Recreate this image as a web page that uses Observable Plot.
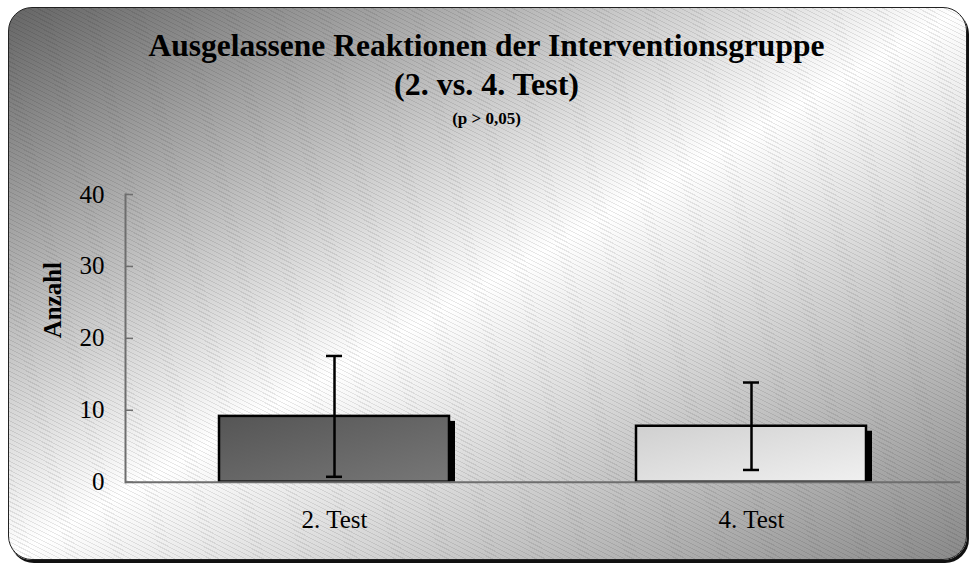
<!DOCTYPE html>
<html>
<head>
<meta charset="utf-8">
<script src="https://cdn.jsdelivr.net/npm/d3@7"></script>
<script src="https://cdn.jsdelivr.net/npm/@observablehq/plot@0.6"></script>
<style>
  html, body { margin: 0; padding: 0; background: #ffffff; }
  #wrap { position: relative; width: 973px; height: 567px; overflow: hidden; font-family: "Liberation Serif", "Times New Roman", serif; }
  #frame {
    position: absolute; left: 8px; top: 7px; width: 957px; height: 551px;
    border: 1.5px solid #222; border-radius: 24px;
    box-shadow: 2px 3px 0 #111;
    background-image:
      repeating-linear-gradient(27deg, rgba(0,0,0,0) 0px, rgba(0,0,0,0) 3px, rgba(0,0,0,0.09) 3px, rgba(0,0,0,0.09) 4px),
      linear-gradient(to bottom right, #666666 0%, #ffffff 50%, #8a8a8a 100%);
  }
  .t { position: absolute; left: 0; width: 973px; text-align: center; font-weight: bold; line-height: 1; color: #000; white-space: nowrap; }
  #t1 { top: 30px; font-size: 31.5px; }
  #t2 { top: 68px; font-size: 32px; }
  #t3 { top: 110px; font-size: 17px; }
  #chart { position: absolute; left: 0; top: 0; }
</style>
</head>
<body>
<div id="wrap">
  <div id="frame"></div>
  <div class="t" id="t1">Ausgelassene Reaktionen der Interventionsgruppe</div>
  <div class="t" id="t2">(2. vs. 4. Test)</div>
  <div class="t" id="t3">(p &gt; 0,05)</div>
  <div id="chart"></div>
</div>
<script>
const categories = ["2. Test", "4. Test"];
const means = [9.15, 7.78];
const sds = [8.4, 6.08];
const yTicks = [0, 10, 20, 30, 40];
const yLabel = "Anzahl";

const data = categories.map((c, i) => ({cat: c, mean: means[i], lo: means[i] - sds[i], hi: means[i] + sds[i]}));

const plot = Plot.plot({
  width: 973,
  height: 567,
  marginLeft: 125,
  marginRight: 13,
  marginTop: 194,
  marginBottom: 85.3,
  style: {fontFamily: "'Liberation Serif', 'Times New Roman', serif", fontSize: "25px", background: "transparent", overflow: "visible", color: "#000"},
  x: {domain: categories, paddingInner: 0.449, paddingOuter: 0.2245, label: null},
  y: {domain: [0, 40], label: null},
  color: {domain: categories, range: ["url(#gDark)", "url(#gLight)"]},
  marks: [
    Plot.barY(data, {x: "cat", y: "mean", fill: "#000", dx: 6, insetTop: 5}),
    Plot.barY(data, {x: "cat", y: "mean", fill: "cat", stroke: "#000", strokeWidth: 2.5}),
    Plot.ruleX(data, {x: "cat", y1: "lo", y2: "hi", stroke: "#000", strokeWidth: 2.5}),
    Plot.tickY(data, {x: "cat", y: "lo", stroke: "#000", strokeWidth: 2.5, insetLeft: 107, insetRight: 107}),
    Plot.tickY(data, {x: "cat", y: "hi", stroke: "#000", strokeWidth: 2.5, insetLeft: 107, insetRight: 107}),
    Plot.ruleY([0], {stroke: "#6e6e6e", strokeWidth: 2}),
    Plot.frame({anchor: "left", stroke: "#6e6e6e", strokeWidth: 2}),
    Plot.axisY({ticks: yTicks, tickSize: -8, tickPadding: 29, stroke: "#6e6e6e", strokeWidth: 1.5, fill: "#000", label: null, tickFormat: d => String(d)}),
    Plot.axisX({tickSize: 0, tickPadding: 28, label: null, fill: "#000"}),
    Plot.text([yLabel], {frameAnchor: "left", text: d => d, rotate: -90, dx: -73, fontWeight: "bold", fontSize: 25, fill: "#000"})
  ]
});

plot.insertAdjacentHTML("afterbegin", `
<defs>
  <linearGradient id="gDark" x1="0" y1="0" x2="1" y2="1">
    <stop offset="0%" stop-color="#555"/>
    <stop offset="100%" stop-color="#777"/>
  </linearGradient>
  <linearGradient id="gLight" x1="0" y1="0" x2="1" y2="1">
    <stop offset="0%" stop-color="#d0d0d0"/>
    <stop offset="100%" stop-color="#f0f0f0"/>
  </linearGradient>
</defs>`);

document.getElementById("chart").appendChild(plot);
</script>
</body>
</html>
